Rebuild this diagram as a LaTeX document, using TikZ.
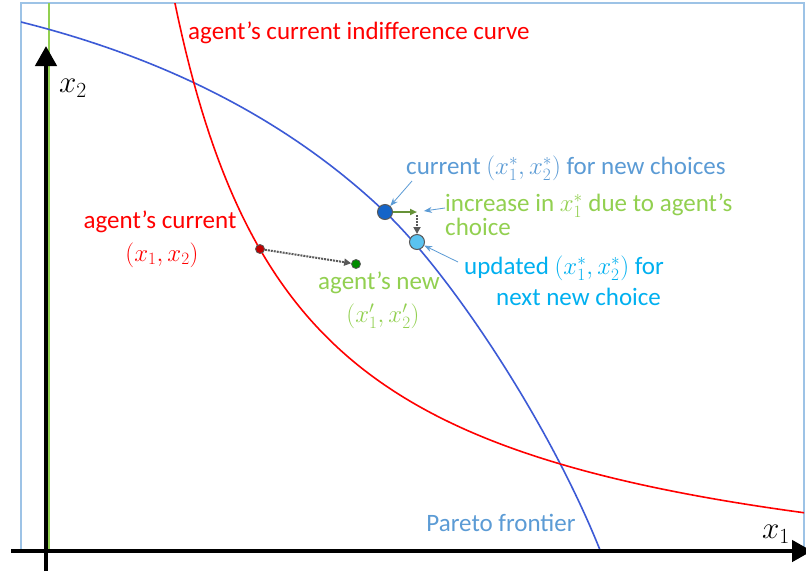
\documentclass[tikz,border=0pt]{standalone}
\usepackage{amsmath}
\usepackage{fontspec}
\setmainfont{Carlito}
\usetikzlibrary{arrows.meta}
\definecolor{framebl}{RGB}{157,195,230}
\definecolor{curvebl}{RGB}{60,90,214}
\definecolor{labbl}{RGB}{91,155,213}
\definecolor{cyanbl}{RGB}{0,176,240}
\definecolor{lgreen}{RGB}{146,208,80}
\definecolor{curdot}{RGB}{20,100,200}
\definecolor{upddot}{RGB}{90,195,240}

\begin{document}
\begin{tikzpicture}[x=1pt,y=-1pt,font=\fontsize{25}{21}\selectfont,
  every node/.style={inner sep=1pt},
  bigdot/.style={circle,draw=black!65,line width=1pt,inner sep=0pt,minimum size=15pt},
  smalldot/.style={circle,draw=black!65,line width=0.8pt,inner sep=0pt,minimum size=9pt},
  note/.style={labbl,line width=0.8pt,-{Stealth[length=8pt,width=6pt]}},
  move/.style={densely dotted,line width=2pt,gray!70!black,-{Triangle[length=7pt,width=7pt,color=black!65,fill=black!65]}},
  axis/.style={line width=4.5pt,-{Triangle[length=20pt,width=21pt]}}]
\useasboundingbox (0,0) rectangle (806,571);
\fill[white] (0,0) rectangle (806,571);
% frame and the green guide line
\draw[framebl,line width=1.3pt] (21,3) rectangle (804,550);
\draw[lgreen,line width=1.3pt] (49,3) -- (49,550);
% curves
\begin{scope}
\clip (21,3) rectangle (804,550);
\draw[curvebl,line width=1.6pt] (21,22) .. controls (169.4,59.1) and (290.7,122.4) .. (385,212)
  .. controls (449.4,273.2) and (548.2,420.6) .. (600,550);
\draw[red,line width=1.6pt] plot[domain=174:806,samples=160] (\x,{615.08-773.17/((\x-48.59)/100)});
\end{scope}
% axes
\draw[axis] (46,571) -- (46,46);
\draw[axis] (11,551) -- (812,551);
\node (xtwolab) at (73,88) {\scalebox{1.25}{$x_2$}};
\node (xonelab) at (776,534) {\scalebox{1.25}{$x_1$}};
% points
\node[bigdot,fill=curdot] (cur) at (385,212) {};
\node[bigdot,fill=upddot] (upd) at (417,242) {};
\node[smalldot,fill=red!75!black] (old) at (260,249) {};
\node[smalldot,fill=green!55!black] (new) at (356,264) {};
\coordinate (inc) at (417,212);
\coordinate (drop) at (417,215);
\draw[move] (old) -- (new);
\draw[lgreen!70!black,line width=2pt,-{Triangle[length=7pt,width=6pt]}] (cur) -- (inc);
\draw[move] (drop) -- (upd);
% labels
\node[red,anchor=west] (curvelab) at (187,33) {agent's current indifference curve};
\node[red] (oldlab) at (160,222) {agent's current};
\node[red] (oldxy) at (162,255) {$(x_1,x_2)$};
\node[lgreen] (newlab) at (379,283) {agent's new};
\node[lgreen] (newxy) at (383,316) {$(x_1',x_2')$};
\node[labbl,anchor=west] (curlab) at (405,168) {current $(x_1^*,x_2^*)$ for new choices};
\node[lgreen,anchor=west,align=left] (inclab) at (444,215) {increase in $x_1^*$ due to agent's\\choice};
\node[cyanbl,anchor=west] (updlab) at (463,268) {updated $(x_1^*,x_2^*)$ for};
\node[cyanbl,anchor=west] (updnext) at (495,297) {next new choice};
\node[labbl] (parlab) at (501,523) {Pareto frontier};
% pointers
\coordinate (c1) at (412,181);
\coordinate (c2) at (445,208);
\coordinate (c3) at (458,262);
\draw[note] (c1) -- (cur);
\draw[note,shorten >=7pt] (c2) -- (inc);
\draw[note] (c3) -- (upd);
\end{tikzpicture}
\end{document}
